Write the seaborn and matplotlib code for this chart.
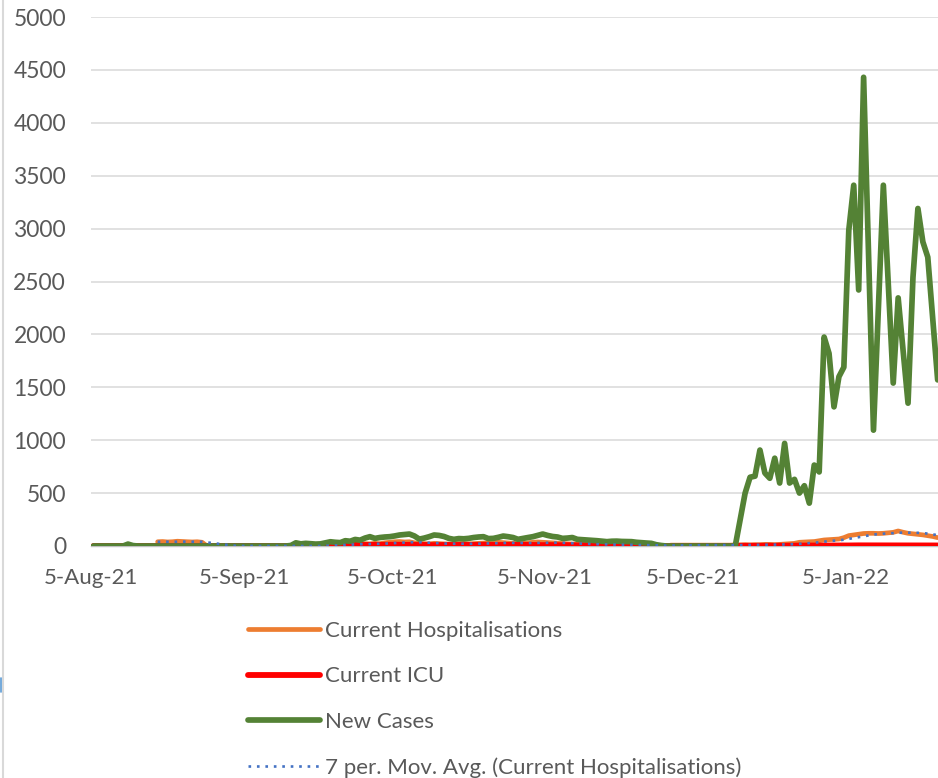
import numpy as np
import pandas as pd
import matplotlib
matplotlib.use('Agg')
import matplotlib.pyplot as plt
import matplotlib.dates as mdates
from matplotlib.lines import Line2D
import seaborn as sns

start_date = '2021-08-05'

new_cases = (
    [0, 0, 0, 0, 0, 0, 0, 18, 4]
    + [0] * 31
    + [5, 30, 20, 25, 22, 18, 20, 30, 40, 35,
       32, 50, 45, 62, 55, 75, 88, 72, 80, 85,
       88, 95, 104, 108, 113, 95, 65, 75, 88, 104,
       100, 90, 72, 63, 70, 68, 72, 80, 85, 88,
       70, 72, 82, 94, 88, 80, 63, 72, 80, 88,
       100, 113, 100, 90, 85, 72, 75, 80, 63, 60,
       57, 55, 50, 45, 41, 45, 46, 43, 42, 41,
       35, 31, 28, 25, 12, 5, 0]
    + [0] * 13
    + [0, 250, 500, 650, 660, 907, 690, 640, 830, 595,
       970, 595, 630, 500, 570, 405, 765, 700, 1975, 1820,
       1315, 1600, 1690, 2985, 3410, 2420, 4430, 2760, 1095, 2250,
       3410, 2475, 1540, 2345, 1850, 1350, 2540, 3190, 2875, 2730,
       2150, 1570]
)

hospitalisations = (
    [np.nan] * 13
    + [40, 42, 38, 40, 45, 42, 40, 38, 40, 35]
    + [0] * 24
    + [10, 12, 15, 15, 18, 15, 20, 18, 22, 20,
       25, 22, 30, 35, 40, 42, 38, 40, 30, 25,
       22, 20, 25, 22, 20, 18, 20, 22, 25, 20,
       22, 25, 28, 30, 32, 35, 32, 28, 25, 22,
       25, 30, 35, 38, 35, 32, 30, 25, 22, 20,
       18, 20, 18, 15, 15, 12, 15, 12, 10, 12,
       10, 8, 10, 8, 6, 5, 5, 3, 2, 0]
    + [8] * 13
    + [10, 10, 12, 10, 12, 12, 15, 15, 12, 15,
       18, 20, 25, 35, 38, 40, 42, 50, 57, 60,
       62, 66, 79, 98, 105, 113, 118, 120, 120, 118,
       120, 125, 129, 142, 130, 120, 115, 110, 105, 98,
       90, 79]
)

icu = (
    [0] * 47
    + [5, 6, 8, 8, 9, 8, 10, 9, 10, 10,
       11, 10, 12, 12, 11, 12, 10, 11, 10, 9,
       10, 9, 8, 9, 10, 10, 9, 10, 11, 10,
       10, 11, 12, 11, 10, 9, 10, 10, 11, 12,
       11, 10, 9, 9, 8, 9, 8, 8, 7, 8,
       7, 6, 7, 6, 6, 5, 5, 5, 4, 4,
       4, 3, 3, 3, 2, 2, 2, 1, 1]
    + [0] * 14
    + [2, 2, 2, 2, 3, 3, 3, 3, 3, 3,
       3, 3, 4, 4, 4, 4, 4, 4, 5, 5,
       5, 5, 5, 5, 6, 6, 6, 6, 6, 6,
       6, 6, 6, 6, 6, 6, 6, 6, 6, 5,
       5, 5]
)

tick_dates = ['2021-08-05', '2021-09-05', '2021-10-05', '2021-11-05', '2021-12-05', '2022-01-05']
tick_labels = ['5-Aug-21', '5-Sep-21', '5-Oct-21', '5-Nov-21', '5-Dec-21', '5-Jan-22']
y_ticks = list(range(0, 5001, 500))
series_names = ['Current Hospitalisations', 'Current ICU', 'New Cases',
                '7 per. Mov. Avg. (Current Hospitalisations)']

sns.set_theme(style='white')
plt.rcParams['font.family'] = ['Lato', 'DejaVu Sans']

TXT = '#595959'
dates = pd.date_range(start_date, periods=len(new_cases)) + pd.Timedelta(hours=12)
df = pd.DataFrame({'date': dates, 'hosp': hospitalisations, 'icu': icu, 'cases': new_cases})
df['hosp_ma'] = df['hosp'].rolling(7, min_periods=1).mean()

W, H = 938, 778
fig = plt.figure(figsize=(W / 100, H / 100), dpi=100)
fig.patch.set_facecolor('white')
ax = fig.add_axes([91 / W, 1 - 546 / H, (950 - 91) / W, (546 - 17) / H])

sns.lineplot(data=df, x='date', y='hosp', ax=ax, color='#ED7D31', lw=3.4, estimator=None)
sns.lineplot(data=df, x='date', y='icu', ax=ax, color='#FF0000', lw=4.2, estimator=None)
sns.lineplot(data=df, x='date', y='cases', ax=ax, color='#548235', lw=4.1, estimator=None)
sns.lineplot(data=df, x='date', y='hosp_ma', ax=ax, color='#4472C4', lw=1.9,
             linestyle=(0, (1, 2.2)), estimator=None)

ax.set_xlim(pd.Timestamp('2021-08-05'), pd.Timestamp('2022-01-26'))
ax.set_ylim(0, 5000)
ax.set_yticks(y_ticks)
ax.set_yticklabels([str(v) for v in y_ticks])
ax.set_xticks(pd.to_datetime(tick_dates))
ax.set_xticklabels(tick_labels)
ax.set_xlabel('')
ax.set_ylabel('')

ax.yaxis.grid(True, color='#D9D9D9', lw=1.1)
ax.xaxis.grid(False)
ax.set_axisbelow(True)
for s in ['top', 'right', 'left']:
    ax.spines[s].set_visible(False)
ax.spines['bottom'].set_color('#BFBFBF')
ax.spines['bottom'].set_linewidth(1.0)
ax.spines['bottom'].set_zorder(0.5)

ax.tick_params(axis='y', length=0, pad=18, labelsize=16.5, labelcolor=TXT)
ax.tick_params(axis='x', length=4, width=1, color='#BFBFBF', direction='out',
               pad=12, labelsize=16, labelcolor=TXT)

lines = ax.get_lines()[:4]
leg = fig.legend(lines, series_names, loc='upper left',
                 bbox_to_anchor=(248 / W, 1 - 621 / H), bbox_transform=fig.transFigure,
                 frameon=False, borderaxespad=0, borderpad=0,
                 handlelength=3.25, handletextpad=0.22, labelspacing=1.14,
                 fontsize=16)
for t in leg.get_texts():
    t.set_color(TXT)

# left border of the original frame
fig.add_artist(Line2D([2.5 / W, 2.5 / W], [0, 1], transform=fig.transFigure,
                      color='#D9D9D9', lw=1.5))
fig.add_artist(Line2D([0.8 / W, 0.8 / W], [1 - 678 / H, 1 - 692 / H], transform=fig.transFigure,
                      color='#5B9BD5', lw=1.2))

fig.savefig('out.png', dpi=100)
